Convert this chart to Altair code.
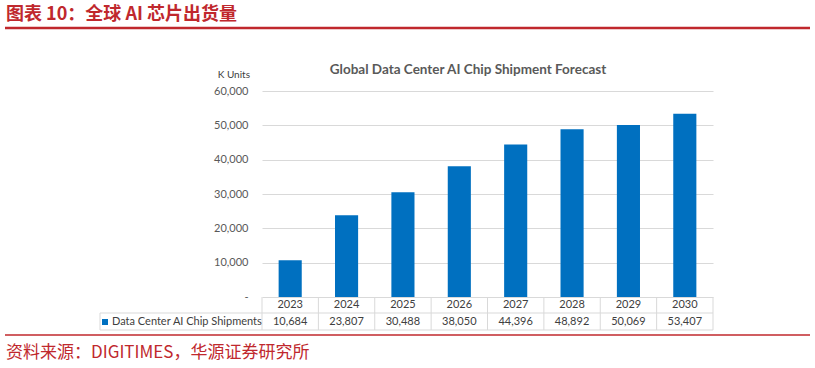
import altair as alt
import pandas as pd

years = ["2023", "2024", "2025", "2026", "2027", "2028", "2029", "2030"]
shipments = [10684, 23807, 30488, 38050, 44396, 48892, 50069, 53407]
y_ticks = [0, 10000, 20000, 30000, 40000, 50000, 60000]

fig_title = "图表 10：全球 AI 芯片出货量"
chart_title = "Global Data Center AI Chip Shipment Forecast"
unit_label = "K Units"
series_name = "Data Center AI Chip Shipments"
source_text = "资料来源：DIGITIMES，华源证券研究所"

df = pd.DataFrame({"year": years, "value": shipments})
idx_df = pd.DataFrame({"idx": list(range(len(years) + 1))})
one = pd.DataFrame({"k": [0]})

W, H = 451, 206
BLUE = "#0070C0"
RED = "#c0282d"
GRID = "#d9d9d9"
TXT = "#404040"
EN_FONT = "Lato"
CN_FONT = "Noto Sans CJK SC"

xband = alt.Scale(type="band", paddingInner=0.59, paddingOuter=0.295)

bars = alt.Chart(df).mark_bar(color=BLUE).encode(
    x=alt.X("year:O", scale=xband, axis=None),
    y=alt.Y(
        "value:Q",
        scale=alt.Scale(domain=[0, 60000], nice=False),
        axis=alt.Axis(
            values=y_ticks,
            labelExpr="datum.value == 0 ? '-' : format(datum.value, ',')",
            grid=True,
            gridColor=GRID,
            ticks=False,
            domain=False,
            labelPadding=14,
            labelFontSize=11,
            labelColor="#595959",
            labelFont=EN_FONT,
            title=None,
        ),
    ),
)

year_txt = alt.Chart(df).mark_text(fontSize=11, color=TXT, font=EN_FONT).encode(
    x=alt.X("year:O", scale=xband, axis=None),
    y=alt.value(214),
    text="year:N",
)
val_txt = alt.Chart(df).mark_text(fontSize=11, color=TXT, font=EN_FONT).encode(
    x=alt.X("year:O", scale=xband, axis=None),
    y=alt.value(231),
    text=alt.Text("value:Q", format=","),
)

main = alt.layer(bars, year_txt, val_txt)

vlines = alt.Chart(idx_df).mark_rule(color=GRID, strokeWidth=1).encode(
    x=alt.X("idx:Q", scale=alt.Scale(domain=[0, len(years)], nice=False), axis=None),
    y=alt.value(H),
    y2=alt.value(239),
)

base = alt.Chart(one)
hl1 = base.mark_rule(color=GRID).encode(x=alt.value(-162), x2=alt.value(W), y=alt.value(222))
hl2 = base.mark_rule(color=GRID).encode(x=alt.value(-162), x2=alt.value(W), y=alt.value(239))
vl0 = base.mark_rule(color=GRID).encode(x=alt.value(-162), y=alt.value(222), y2=alt.value(239))

leg_sq = base.mark_point(shape="square", filled=True, color=BLUE, size=36, opacity=1).encode(
    x=alt.value(-157), y=alt.value(231)
)
leg_txt = base.mark_text(align="left", fontSize=11, color=TXT, font=EN_FONT).encode(
    x=alt.value(-150), y=alt.value(231), text=alt.value(series_name)
)

ctitle = base.mark_text(fontSize=13.5, fontWeight="bold", color="#595959", font=EN_FONT).encode(
    x=alt.value(206), y=alt.value(-21), text=alt.value(chart_title)
)
unit = base.mark_text(align="right", fontSize=10, color="#404040", font=EN_FONT).encode(
    x=alt.value(-12), y=alt.value(-16), text=alt.value(unit_label)
)

ftitle = base.mark_text(align="left", fontSize=18, fontWeight="bold", color=RED, font=CN_FONT).encode(
    x=alt.value(-256), y=alt.value(-76), text=alt.value(fig_title)
)
fline = base.mark_rule(color=RED, strokeWidth=2.5).encode(
    x=alt.value(-257), x2=alt.value(548), y=alt.value(-63)
)
sline = base.mark_rule(color=RED, strokeWidth=1.5).encode(
    x=alt.value(-257), x2=alt.value(548), y=alt.value(244)
)
stext = base.mark_text(align="left", fontSize=17, color=RED, font=CN_FONT).encode(
    x=alt.value(-256), y=alt.value(262), text=alt.value(source_text)
)

chart = (
    alt.layer(main, vlines, hl1, hl2, vl0, leg_sq, leg_txt, ctitle, unit, ftitle, fline, sline, stext)
    .resolve_scale(x="independent")
    .properties(
        width=W,
        height=H,
        autosize=alt.AutoSizeParams(type="none"),
        padding={"left": 262, "top": 91, "right": 102, "bottom": 71},
        background="white",
    )
    .configure_view(stroke=None)
)

chart.save("out.html", embed_options={"renderer": "svg", "actions": False})
